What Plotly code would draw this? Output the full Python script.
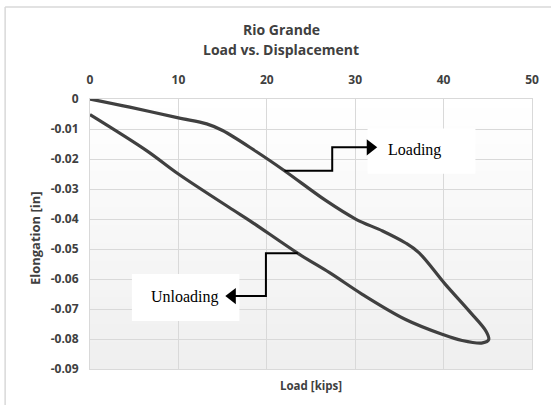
import plotly.graph_objects as go

# ---- data ----
load_loading = [0, 4.5, 10, 13.2, 15.0, 18.8, 22.0, 26.7, 30.1, 33.1, 35.7, 37.2, 40.2, 42.9, 44.8, 45.1]
elong_loading = [0, -0.0027, -0.0063, -0.0083, -0.0105, -0.0175, -0.0239, -0.0339, -0.0401, -0.0440,
                 -0.0480, -0.0512, -0.0618, -0.0707, -0.0774, -0.0802]
load_unloading = [45.1, 44.4, 42.1, 39.9, 35.7, 30.8, 27.1, 23.7, 18.1, 16.2, 10, 6.4, 0]
elong_unloading = [-0.0802, -0.0813, -0.0805, -0.0785, -0.0735, -0.0651, -0.0579, -0.0518, -0.0406,
                   -0.0370, -0.0250, -0.0172, -0.0052]

x_ticks = [0, 10, 20, 30, 40, 50]
x_tick_labels = ["0", "10", "20", "30", "40", "50"]
y_ticks = [0, -0.01, -0.02, -0.03, -0.04, -0.05, -0.06, -0.07, -0.08, -0.09]
y_tick_labels = ["0", "-0.01", "-0.02", "-0.03", "-0.04", "-0.05", "-0.06", "-0.07", "-0.08", "-0.09"]

# annotation callouts (elbow connectors)
loading_arrow_x = [22.0, 27.4, 27.4, 31.7]
loading_arrow_y = [-0.0239, -0.0239, -0.0161, -0.0161]
unloading_arrow_x = [23.5, 19.9, 19.9, 16.1]
unloading_arrow_y = [-0.0514, -0.0514, -0.0657, -0.0657]

CURVE = "#404040"
GRID = "#d9d9d9"
TXT = "#404040"
FONT = "Open Sans"

fig = go.Figure()

fig.add_trace(go.Scatter(
    x=load_loading + load_unloading[1:],
    y=elong_loading + elong_unloading[1:],
    mode="lines", line=dict(color=CURVE, width=3.2, shape="spline", smoothing=1.0),
    showlegend=False, hoverinfo="skip"))

for ax_, ay_, sym in [(loading_arrow_x, loading_arrow_y, "triangle-right"),
                      (unloading_arrow_x, unloading_arrow_y, "triangle-left")]:
    fig.add_trace(go.Scatter(x=ax_, y=ay_, mode="lines", line=dict(color="black", width=2),
                             showlegend=False, hoverinfo="skip"))
    fig.add_trace(go.Scatter(x=[ax_[-1]], y=[ay_[-1]], mode="markers",
                             marker=dict(symbol=sym, size=14, color="black", line=dict(width=0)),
                             showlegend=False, hoverinfo="skip"))

shapes = []
# subtle vertical gradient in plot area
n = 30
for i in range(n):
    t = (i + 0.5) / n  # 0 bottom -> 1 top
    v = int(round(239 + (255 - 239) * t))
    shapes.append(dict(type="rect", xref="x domain", yref="y domain", x0=0, x1=1,
                       y0=i / n, y1=(i + 1) / n, fillcolor=f"rgb({v},{v},{v})",
                       line=dict(width=0), layer="below"))
# white label boxes
shapes.append(dict(type="rect", xref="x", yref="y", x0=31.4, x1=43.6, y0=-0.0249, y1=-0.00985,
                   fillcolor="white", line=dict(width=0), layer="between"))
shapes.append(dict(type="rect", xref="x", yref="y", x0=4.74, x1=16.9, y0=-0.0740, y1=-0.0583,
                   fillcolor="white", line=dict(width=0), layer="between"))
# outer chart border (left and top visible)
shapes.append(dict(type="line", xref="paper", yref="paper", x0=-0.192, x1=-0.192, y0=1.341, y1=-0.2,
                   line=dict(color=GRID, width=1.5)))
shapes.append(dict(type="line", xref="paper", yref="paper", x0=-0.192, x1=1.1, y0=1.341, y1=1.341,
                   line=dict(color=GRID, width=1.5)))

annotations = [
    dict(text="<b>Rio Grande</b>", xref="paper", yref="paper", x=0.4328, y=1.2556, showarrow=False,
         font=dict(family=FONT, size=14, color=TXT), xanchor="center", yanchor="middle"),
    dict(text="<b>Load vs. Displacement</b>", xref="paper", yref="paper", x=0.4328, y=1.1815,
         showarrow=False, font=dict(family=FONT, size=14, color=TXT), xanchor="center", yanchor="middle"),
    dict(text="<b>Load [kips]</b>", xref="paper", yref="paper", x=0.5, y=-0.061, showarrow=False,
         font=dict(family=FONT, size=11.5, color=TXT), xanchor="center", yanchor="middle"),
    dict(text="<b>Elongation [in]</b>", xref="paper", yref="paper", x=-0.1243, y=0.485, showarrow=False,
         textangle=-90, font=dict(family=FONT, size=13, color=TXT), xanchor="center", yanchor="middle"),
    dict(text="Loading", xref="x", yref="y", x=36.7, y=-0.0169, showarrow=False,
         font=dict(family="Liberation Serif", size=16, color="black"), xanchor="center", yanchor="middle"),
    dict(text="Unloading", xref="x", yref="y", x=10.8, y=-0.0659, showarrow=False,
         font=dict(family="Liberation Serif", size=16, color="black"), xanchor="center", yanchor="middle"),
]

fig.update_layout(
    width=551, height=405,
    margin=dict(l=90, r=18.5, t=99.3, b=35.7),
    paper_bgcolor="white", plot_bgcolor="white",
    shapes=shapes, annotations=annotations,
    xaxis=dict(side="top", range=[0, 50], tickvals=x_ticks, ticktext=x_tick_labels,
               showgrid=True, gridcolor=GRID,
               zeroline=False, showline=True, linecolor=GRID, mirror=True, ticks="",
               ticklabelstandoff=9,
               tickfont=dict(family=FONT, size=12, color=TXT, weight="bold")),
    yaxis=dict(range=[-0.09, 0], tickvals=y_ticks, ticktext=y_tick_labels,
               showgrid=True, gridcolor=GRID, zeroline=False, showline=True, linecolor=GRID, mirror=True,
               ticks="", ticklabelstandoff=8,
               tickfont=dict(family=FONT, size=12, color=TXT, weight="bold")),
)

fig.write_html("out.html", config={"displayModeBar": False},
               post_script="document.body.style.margin='0px';")
